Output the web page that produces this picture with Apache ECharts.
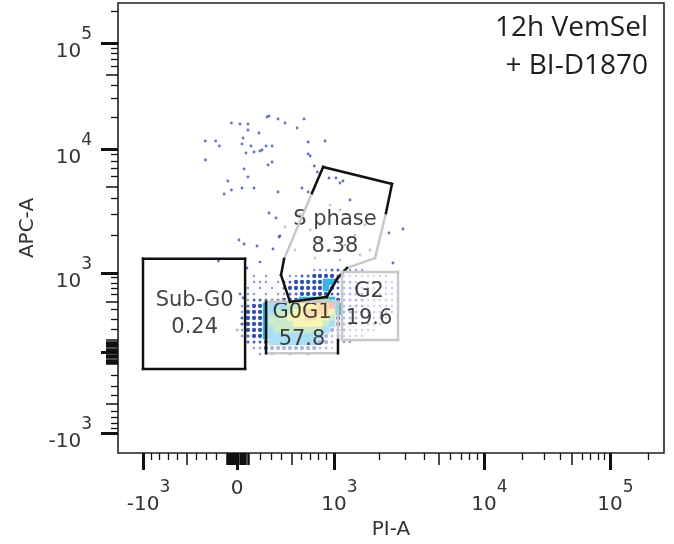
<!DOCTYPE html>
<html><head><meta charset="utf-8">
<script src="https://cdn.jsdelivr.net/npm/echarts@6/dist/echarts.min.js"></script>
<style>html,body{margin:0;padding:0;background:#fff}#c{width:674px;height:544px}</style>
</head><body><div id="c"></div><script>
// ---------------- data (raw PI-A / APC-A values) ----------------
const titleLines   = ['12h VemSel', '+ BI-D1870'];
const xLabelValues = [-1000, 0, 1000, 10000, 100000];
const xLabelBase   = ['-10', '0', '10', '10', '10'];
const xLabelExp    = ['3', '', '3', '4', '5'];
const yLabelValues = [-1000, 1000, 10000, 100000];
const yLabelBase   = ['-10', '10', '10', '10'];
const yLabelExp    = ['3', '3', '4', '5'];

// sparse single events
const outlierEvents = [
 [282,20480],[264,20040],[366,19190],[434,17590],[631,19190],[-54,17590],[26,17210],[95,17210],
 [95,15110],[192,14150],[556,15780],[-310,11900],[-207,11900],[-171,10670],[52,12700],[43,11150],
 [121,10670],[255,10670],[310,10670],[677,11640],[881,11900],[219,9815],[201,9636],[148,9459],
 [78,9285],[677,9115],[701,8780],[-310,8153],[310,7857],[273,7430],[748,7296],[61,6898],[785,6524],
 [95,5946],[932,5835],[1031,5835],[1148,5520],[1096,5317],[-89,5520],[-54,4670],[-125,4336],
 [43,4847],[148,4847],[366,4500],[609,4847],[677,4500],[282,3048],[347,2777],[2884,2264],[2326,2102],
 [17,1846],[61,1713],[174,1651],[319,1562],[385,1988],[375,1951],[434,2350],[2472,1204],[-180,1250],
 [86,1097],[201,1226],[52,553],[26,611],[0,190],
 [535,1533],[587,2936],[701,2222],[817,1846],[945,1533],[1184,1682],[1380,2025],[1610,2439],
 [1096,3222],[1279,3879],[1491,1397],[758,1321],[1096,1273],[1738,1533],[945,3535],[817,2439]
];

// density grid (cell centres) and density class per cell (0 = empty)
const densityPI  = [43,95,148,201,255,310,366,424,483,545,609,677,748,817,893,973,1063,1166,1279,1402,1537,1686,1848,2027,2222,2437];
const densityAPC = [1057,935,814,707,611,524,445,374,308,247,190,136,84,33,-16];
const densityLevel = [
 [0,0,0,0,0,0,0,0,0,0,0,0,1,1,1,2,2,1,1,1,1,0,0,0,0,0],
 [0,0,1,0,1,0,0,0,1,1,2,2,3,3,3,3,2,1,1,1,1,1,1,1,1,0],
 [0,0,1,1,1,0,1,2,2,3,3,3,3,3,4,4,2,2,2,1,1,1,1,1,1,1],
 [0,1,0,1,0,1,0,2,3,3,3,3,3,3,4,3,2,2,2,2,1,1,1,1,1,1],
 [0,1,1,0,1,0,1,1,2,2,3,3,3,3,3,2,2,2,2,2,2,1,1,1,1,1],
 [0,1,2,2,2,2,2,3,3,3,4,4,4,5,5,4,3,2,2,2,2,1,1,1,1,1],
 [1,2,3,3,4,4,4,4,5,5,6,6,6,7,7,8,4,2,2,2,2,1,1,1,1,1],
 [1,3,3,3,4,4,5,5,5,6,6,7,7,7,7,6,4,2,2,2,2,1,1,1,1,1],
 [2,3,3,3,4,5,5,5,6,6,6,7,7,6,6,5,3,2,2,2,1,1,1,1,1,0],
 [2,3,3,3,4,5,5,5,5,6,6,6,6,6,5,4,3,2,2,1,1,1,1,1,0,0],
 [1,3,3,3,4,4,5,5,5,5,5,5,5,5,4,3,2,2,1,1,1,1,1,0,0,0],
 [1,2,3,3,4,4,4,4,4,4,4,4,4,4,3,2,2,1,1,1,1,0,0,0,0,0],
 [0,2,2,2,3,4,4,4,4,4,4,4,4,3,3,2,1,1,1,0,0,0,0,0,0,0],
 [0,0,1,1,3,3,3,3,3,3,3,3,3,2,2,1,0,0,0,0,0,0,0,0,0,0],
 [0,0,0,1,0,1,0,0,1,0,0,1,0,0,0,0,0,0,0,0,0,0,0,0,0,0]
];

// gates: vertices (raw values) and which edges are drawn dark
const subG0Gate   = [[-1000,-140],[-1000,1300],[70,1300],[70,-140]];
const subG0Dark   = [1,1,1,1];
const g0g1Gate    = [[255,-10],[255,499],[1063,499],[1063,101],[1063,-10]];
const g0g1Dark    = [1,0,0,1,0];
const sPhaseGate  = [[857,7160],[2436,5222],[2221,3048],[1877,1321],[1221,1097],[1047,874],[903,567],[483,499],[395,954],[424,1297],[721,4413]];
const sPhaseDark  = [1,1,0,0,1,1,1,1,1,0,1];
const g2Gate      = [[1131,101],[1131,1019],[2670,1019],[2670,101]];
const g2Dark      = [0,0,0,0];

const gateNames    = ['Sub-G0', 'G0G1', 'S phase', 'G2'];
const gateFreqs    = ['0.24', '57.8', '8.38', '19.6'];
const gateLabelPI  = [-418, 609, 1015, 1712];
const gateLabelAPC = [351, 223, 2082, 458];

// ---------------- biexponential display scales ----------------
const X_SCALE = {cPos:800, cNeg:1200, neg:25, zero:119, dec:[216,366,492], max:546};
const Y_SCALE = {cPos:400, cNeg:400,  neg:20, zero:101, dec:[180,304,410], max:450};
function biex(s){
  const aP = Math.asinh(1000/s.cPos), aN = Math.asinh(1000/s.cNeg);
  return function(v){
    if (v <= 1000) {
      if (v >= 0) return s.zero + (Math.asinh(v/s.cPos)/aP) * (s.dec[0]-s.zero);
      return s.zero + (Math.asinh(v/s.cNeg)/aN) * (s.zero-s.neg);
    }
    const L = Math.log10(v) - 3;
    const i = Math.min(Math.floor(L), 1);
    return s.dec[i] + (L-i) * (s.dec[i+1]-s.dec[i]);
  };
}
const TX = biex(X_SCALE), TY = biex(Y_SCALE);

// tick values
const nearZero = [10,20,30,40,50,60,70,80,90,100];
const majorTicks = [-1000, 0, 1000, 10000, 100000];
const midTicks = [-500, 500, 5000, 50000].concat(nearZero, nearZero.map(v=>-v));
const minorTicks = [];
[100,1000,10000].forEach(d => [2,3,4,6,7,8,9].forEach(m => minorTicks.push(m*d)));
minorTicks.push(-200,-300,-400,-600,-700,-800,-900,200000);

// ---------------- styles ----------------
const FONT = 'DejaVu Sans';
const levelColor = ['', '#8b98d4', '#4d64be', '#3350b0', '#3cb4e4', '#80d080', '#f2e650', '#f6b048', '#f07058'];
const levelSize  = [0, 2.4, 3.0, 4.3, 6.6, 6.6, 6.6, 6.6, 6.6];
const gateLabelPad = [[3,4],[0,5],[4,10],[6,4]];

const gridRect = {left:118, right:10, top:3, bottom:91, outerBoundsMode:'none', containLabel:false};

function axis(dim, gridIndex, ticks, len, width, extra){
  const T = dim === 'x' ? TX : TY, sc = dim === 'x' ? X_SCALE : Y_SCALE;
  return Object.assign({
    type:'value', gridIndex, min:0, max:sc.max, position: dim === 'x' ? 'bottom' : 'left',
    axisLine:{show:false}, splitLine:{show:false},
    axisTick:{show:true, inside:false, length:len, customValues: ticks.map(T), lineStyle:{color:'#111', width}},
    axisLabel:{show:false}
  }, extra || {});
}
function findIdx(vals, T, v){ for (let i=0;i<vals.length;i++) if (Math.abs(T(vals[i])-v) < 0.01) return i; return -1; }

const xRich = {
  b:{fontFamily:FONT, fontSize:20, lineHeight:22, color:'#333', padding:[27,0,0,11]},
  s:{fontFamily:FONT, fontSize:17, lineHeight:18, color:'#333', padding:[12,0,19,0]},
  z:{fontFamily:FONT, fontSize:20, lineHeight:17, color:'#333'}
};
const yRich = {
  b:{fontFamily:FONT, fontSize:20, lineHeight:22, color:'#333', padding:[18,0,0,0]},
  s:{fontFamily:FONT, fontSize:17, lineHeight:18, color:'#333', padding:[3,0,19,0]}
};

const xMajorAxis = axis('x', 0, majorTicks, 17, 3, {
  name:'PI-A', nameLocation:'middle', nameGap:66,
  nameTextStyle:{fontFamily:FONT, fontSize:20, color:'#333'},
  axisLabel:{show:true, margin:27, customValues: xLabelValues.map(TX), rich:xRich,
    formatter: v => { const i = findIdx(xLabelValues, TX, v); if (i<0) return '';
      return xLabelExp[i] ? '{b|'+xLabelBase[i]+'}{s|'+xLabelExp[i]+'}' : '{z|'+xLabelBase[i]+'}'; }}
});
const yMajorAxis = axis('y', 0, majorTicks, 17, 3, {
  name:'APC-A', nameLocation:'middle', nameGap:80,
  nameTextStyle:{fontFamily:FONT, fontSize:20, color:'#333'},
  axisLabel:{show:true, margin:26, customValues: yLabelValues.map(TY), rich:yRich,
    formatter: v => { const i = findIdx(yLabelValues, TY, v); if (i<0) return '';
      return '{b|'+yLabelBase[i]+'}{s|'+yLabelExp[i]+'}'; }}
});

// density cells
const densityData = [];
densityLevel.forEach((row, r) => row.forEach((lvl, c) => {
  if (lvl > 0) densityData.push([TX(densityPI[c]), TY(densityAPC[r]), lvl]);
}));

const gates = [
  {pts:subG0Gate, dark:subG0Dark},
  {pts:g0g1Gate, dark:g0g1Dark},
  {pts:sPhaseGate, dark:sPhaseDark},
  {pts:g2Gate, dark:g2Dark}
];

const option = {
  animation:false,
  backgroundColor:'#fff',
  graphic:[{type:'text', right:26, top:9, z:10, silent:true,
    style:{text:titleLines.join('\n'), textAlign:'right', fill:'#1e1e1e',
      font:'28px "Open Sans"', lineHeight:38}}],
  grid:[
    Object.assign({show:true, borderColor:'#222', borderWidth:1.6, backgroundColor:'transparent'}, gridRect),
    Object.assign({show:false}, gridRect),
    Object.assign({show:false}, gridRect)
  ],
  xAxis:[ xMajorAxis, axis('x', 1, midTicks, 12, 1.5), axis('x', 2, minorTicks, 7, 1.3) ],
  yAxis:[ yMajorAxis, axis('y', 1, midTicks, 12, 1.5), axis('y', 2, minorTicks, 7, 1.3) ],
  series:[
    {type:'scatter', xAxisIndex:0, yAxisIndex:0, z:2, silent:true,
     data: densityData,
     symbol: v => v[2] <= 3 ? 'circle' : 'rect',
     symbolSize: v => levelSize[v[2]],
     itemStyle:{color: p => levelColor[p.value[2]], opacity:1}},
    {type:'scatter', xAxisIndex:0, yAxisIndex:0, z:2, silent:true,
     data: outlierEvents.map(e => [TX(e[0]), TY(e[1])]),
     symbol:'circle', symbolSize:2.8, itemStyle:{color:'#3a4fb0'}},
    {type:'scatter', xAxisIndex:0, yAxisIndex:0, z:3, silent:true,
     symbolSize:1, itemStyle:{color:'rgba(0,0,0,0)'},
     data: gateNames.map((n,i) => ({name:n, value:[TX(gateLabelPI[i]), TY(gateLabelAPC[i])],
       label:{padding:gateLabelPad[i]}})),
     label:{show:true, position:'inside', align:'center', verticalAlign:'middle',
       formatter: p => p.name + '\n' + gateFreqs[p.dataIndex],
       fontFamily:FONT, fontSize:21, lineHeight:27, color:'#111',
       backgroundColor:'rgba(255,255,255,0.72)'}},
    {type:'custom', xAxisIndex:0, yAxisIndex:0, z:4, silent:true,
     data: gates.map((g,i) => [0, 0, i]),
     renderItem: (params, api) => {
       const g = gates[params.dataIndex];
       const pts = g.pts.map(p => api.coord([TX(p[0]), TY(p[1])]));
       const kids = [];
       [0,1].forEach(pass => {
         for (let i=0;i<pts.length;i++){
           if ((g.dark[i] ? 1 : 0) !== pass) continue;
           const a = pts[i], b = pts[(i+1)%pts.length];
           kids.push({type:'line', shape:{x1:a[0],y1:a[1],x2:b[0],y2:b[1]},
             style:{stroke: pass ? '#111' : '#c8c8c8', lineWidth:2.5, lineCap:'square'}});
         }
       });
       return {type:'group', children:kids};
     }}
  ]
};
const chart = echarts.init(document.getElementById('c'));
chart.setOption(option);
</script></body></html>
